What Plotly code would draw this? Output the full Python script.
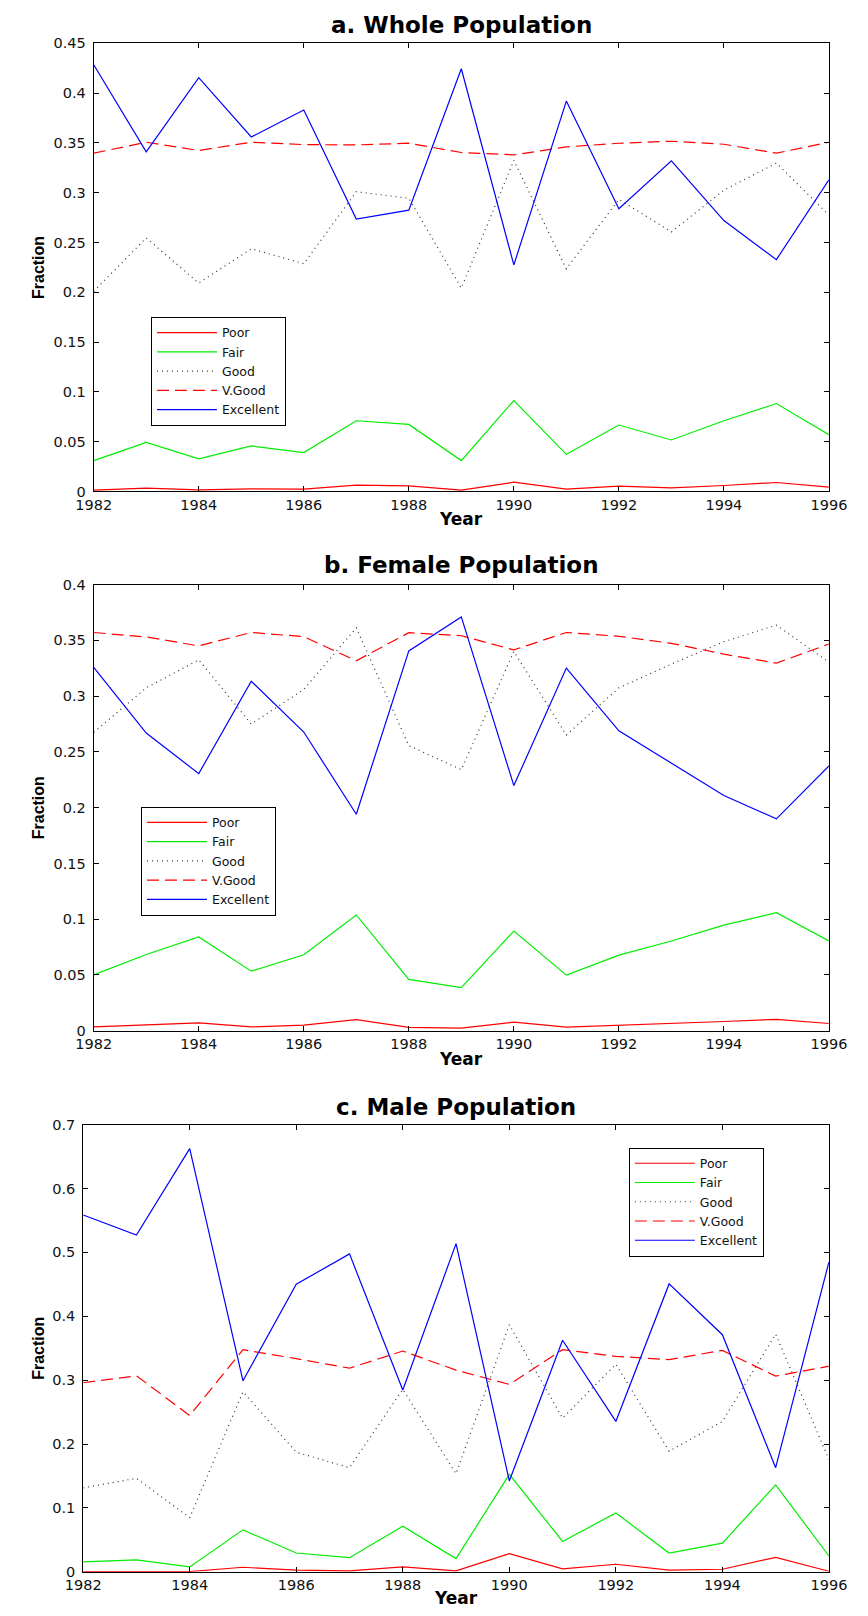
import plotly.graph_objects as go

years = list(range(1982, 1997))
series_names = ["Poor", "Fair", "Good", "V.Good", "Excellent"]

# a. Whole Population
whole_poor = [0.0013, 0.0033, 0.0017, 0.0027, 0.0023, 0.0063, 0.0057, 0.0013, 0.0093, 0.0023, 0.0053, 0.0037, 0.0060, 0.0090, 0.0043]
whole_fair = [0.031, 0.0493, 0.0327, 0.0457, 0.039, 0.071, 0.0673, 0.031, 0.0913, 0.0373, 0.0667, 0.0517, 0.071, 0.0883, 0.057]
whole_good = [0.201, 0.2546, 0.2093, 0.2437, 0.2287, 0.301, 0.2944, 0.2043, 0.3325, 0.2235, 0.2934, 0.2606, 0.3026, 0.3298, 0.2775]
whole_vgood = [0.3397, 0.3507, 0.3424, 0.3507, 0.3483, 0.348, 0.3497, 0.3404, 0.338, 0.346, 0.3497, 0.3517, 0.3487, 0.3397, 0.3507]
whole_exc = [0.4285, 0.341, 0.4156, 0.356, 0.383, 0.2735, 0.2825, 0.4245, 0.2275, 0.392, 0.284, 0.332, 0.272, 0.2328, 0.313]

# b. Female Population
fem_poor = [0.0035, 0.005, 0.0071, 0.0035, 0.005, 0.010, 0.003, 0.0024, 0.0077, 0.0032, 0.0047, 0.0062, 0.0083, 0.0103, 0.0065]
fem_fair = [0.0501, 0.0684, 0.0841, 0.0534, 0.0681, 0.1038, 0.046, 0.0386, 0.0894, 0.0499, 0.0678, 0.0805, 0.0947, 0.1059, 0.0805]
fem_good = [0.2675, 0.3074, 0.3325, 0.2749, 0.306, 0.3612, 0.2556, 0.234, 0.340, 0.2651, 0.3074, 0.3287, 0.3488, 0.3636, 0.3305]
fem_vgood = [0.357, 0.353, 0.345, 0.357, 0.3533, 0.3317, 0.3568, 0.3541, 0.3414, 0.357, 0.3536, 0.3473, 0.3376, 0.3296, 0.3467]
fem_exc = [0.3257, 0.2669, 0.2305, 0.3133, 0.2678, 0.1941, 0.3405, 0.371, 0.2198, 0.3251, 0.2689, 0.2395, 0.2109, 0.190, 0.2373]

# c. Male Population
male_poor = [0.0005, 0.0005, 0.0005, 0.0072, 0.0026, 0.0016, 0.0078, 0.0016, 0.0285, 0.0047, 0.0119, 0.0026, 0.0041, 0.0228, 0.0010]
male_fair = [0.0155, 0.0186, 0.0078, 0.0657, 0.0295, 0.0222, 0.0714, 0.0207, 0.1526, 0.0476, 0.0921, 0.0295, 0.045, 0.1361, 0.0248]
male_good = [0.1314, 0.1464, 0.0848, 0.2819, 0.1873, 0.163, 0.2856, 0.1536, 0.3866, 0.2406, 0.3249, 0.1888, 0.2354, 0.372, 0.1759]
male_vgood = [0.2959, 0.3068, 0.2447, 0.3476, 0.3337, 0.3187, 0.3456, 0.3156, 0.2933, 0.3476, 0.3373, 0.3321, 0.3466, 0.3063, 0.3218]
male_exc = [0.5585, 0.527, 0.6623, 0.299, 0.45, 0.4976, 0.2845, 0.5136, 0.1423, 0.3624, 0.2354, 0.4506, 0.3711, 0.163, 0.4847]

titles = ["a. Whole Population", "b. Female Population", "c. Male Population"]
x_ticks = [1982, 1984, 1986, 1988, 1990, 1992, 1994, 1996]
y_ticks_a = [0, 0.05, 0.1, 0.15, 0.2, 0.25, 0.3, 0.35, 0.4, 0.45]
y_ticks_b = [0, 0.05, 0.1, 0.15, 0.2, 0.25, 0.3, 0.35, 0.4]
y_ticks_c = [0, 0.1, 0.2, 0.3, 0.4, 0.5, 0.6, 0.7]

W, H = 868, 1616
def px_x(p):
    return p / W
def px_y(p):
    return 1 - p / H

styles = [
    dict(color="#ff0000", dash="solid"),
    dict(color="#00ee00", dash="solid"),
    dict(color="#333333", dash="1px,4px"),
    dict(color="#ff0000", dash="12px,6px"),
    dict(color="#0000ff", dash="solid"),
]

panels = [
    ([whole_poor, whole_fair, whole_good, whole_vgood, whole_exc], y_ticks_a, 0.45),
    ([fem_poor, fem_fair, fem_good, fem_vgood, fem_exc], y_ticks_b, 0.40),
    ([male_poor, male_fair, male_good, male_vgood, male_exc], y_ticks_c, 0.70),
]

# pixel geometry of each plot area (left, right, top, bottom)
geom = [(79, 846, 35.7, 488.3), (79, 846, 582.3, 1033), (68, 846, 1127.7, 1579.5)]
legend_pos = [(138.7, 312), (128.3, 806.7), (637.3, 1151)]
title_y = [17, 563, 1110]
xlabel_y = [516, 1062, 1606]

fig = go.Figure()
font_family = "DejaVu Sans, Arial, sans-serif"

for i, (data, yt, ymax) in enumerate(panels):
    suffix = "" if i == 0 else str(i + 1)
    for name, vals, st in zip(series_names, data, styles):
        fig.add_trace(go.Scatter(
            x=years, y=vals, mode="lines", name=name,
            line=dict(color=st["color"], dash=st["dash"], width=1.2),
            xaxis="x" + suffix, yaxis="y" + suffix,
            legend="legend" + suffix, showlegend=True,
        ))
    l, r, t, b = geom[i]
    axis_common = dict(
        showline=True, linecolor="black", linewidth=1, mirror="ticks",
        ticks="inside", ticklen=5, tickcolor="black", showgrid=False,
        zeroline=False, tickfont=dict(family=font_family, size=14.5, color="#111"),
    )
    fig.layout["xaxis" + suffix] = dict(
        domain=[px_x(l), px_x(r)], range=[1982, 1996],
        tickmode="array", tickvals=x_ticks, ticktext=[str(v) for v in x_ticks],
        anchor="y" + suffix, **axis_common,
    )
    fig.layout["yaxis" + suffix] = dict(
        domain=[px_y(b), px_y(t)], range=[0, ymax],
        tickmode="array", tickvals=yt, ticktext=[("%g" % v) for v in yt],
        anchor="x" + suffix, ticklabelstandoff=4, **axis_common,
    )
    lx, ly = legend_pos[i]
    fig.layout["legend" + suffix] = dict(
        x=px_x(lx), y=px_y(ly), xanchor="left", yanchor="top",
        bgcolor="white", bordercolor="black", borderwidth=1,
        font=dict(family=font_family, size=12.5, color="#111"),
        itemwidth=60, tracegroupgap=0,
    )
    cx = px_x((l + r) / 2)
    fig.add_annotation(text="<b>%s</b>" % titles[i], xref="paper", yref="paper",
                       x=cx, y=px_y(title_y[i]), xanchor="center", yanchor="middle",
                       showarrow=False, font=dict(family=font_family, size=23, color="black"))
    fig.add_annotation(text="<b>Year</b>", xref="paper", yref="paper",
                       x=cx, y=px_y(xlabel_y[i]), xanchor="center", yanchor="middle",
                       showarrow=False, font=dict(family=font_family, size=17, color="black"))
    fig.add_annotation(text="<b>Fraction</b>", xref="paper", yref="paper",
                       x=px_x(21.5), y=px_y((t + b) / 2), xanchor="center", yanchor="middle",
                       textangle=-90, showarrow=False,
                       font=dict(family="Liberation Sans, Arial, sans-serif",
                                 size=16, color="black"))

fig.update_layout(
    width=W, height=H, margin=dict(l=0, r=0, t=0, b=0),
    paper_bgcolor="white", plot_bgcolor="white",
)

fig.write_html("out.html", post_script="document.body.style.margin='0';")
